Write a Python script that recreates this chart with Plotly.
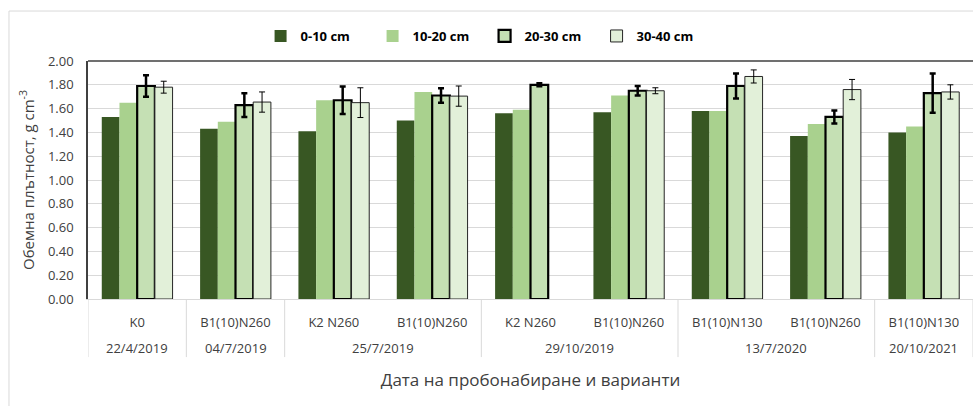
import plotly.graph_objects as go

# ---- data ----
variants = ["K0", "B1(10)N260", "K2 N260", "B1(10)N260", "K2 N260",
            "B1(10)N260", "B1(10)N130", "B1(10)N260", "B1(10)N130"]
dates = ["22/4/2019", "04/7/2019", "25/7/2019", "25/7/2019", "29/10/2019",
         "29/10/2019", "13/7/2020", "13/7/2020", "20/10/2021"]

d0_10 = [1.53, 1.43, 1.41, 1.50, 1.56, 1.57, 1.58, 1.37, 1.40]
d10_20 = [1.65, 1.49, 1.67, 1.74, 1.59, 1.71, 1.58, 1.47, 1.45]
d20_30 = [1.79, 1.63, 1.67, 1.71, 1.80, 1.75, 1.79, 1.53, 1.73]
d20_30_err = [0.09, 0.10, 0.115, 0.06, 0.012, 0.04, 0.105, 0.055, 0.165]
d30_40 = [1.78, 1.655, 1.65, 1.705, None, 1.75, 1.87, 1.76, 1.74]
d30_40_err = [0.05, 0.085, 0.125, 0.085, None, 0.025, 0.055, 0.085, 0.06]

series_names = ["0-10 cm", "10-20 cm", "20-30 cm", "30-40 cm"]
y_title = "Обемна плътност, g cm<sup>-3</sup>"
x_title = "Дата на пробонабиране и варианти"

FONT = "Open Sans"
GRID = "#D9D9D9"
TXT = "#404040"

pos = list(range(len(variants)))

# group consecutive identical dates
groups = []
for i, d in enumerate(dates):
    if groups and groups[-1][0] == d:
        groups[-1][2] = i
    else:
        groups.append([d, i, i])

fig = go.Figure()
fig.add_trace(go.Bar(x=pos, y=d0_10, name=series_names[0],
                     marker=dict(color="#385723", line=dict(width=0))))
fig.add_trace(go.Bar(x=pos, y=d10_20, name=series_names[1],
                     marker=dict(color="#A9D18E", line=dict(width=0))))
fig.add_trace(go.Bar(x=pos, y=d20_30, name=series_names[2],
                     marker=dict(color="#C5E0B4", line=dict(width=2.2, color="#000000")),
                     error_y=dict(type="data", array=d20_30_err, visible=True,
                                  color="#000000", thickness=2.5, width=3)))
fig.add_trace(go.Bar(x=pos, y=d30_40, name=series_names[3],
                     marker=dict(color="#E2F0D9", line=dict(width=1, color="#262626")),
                     error_y=dict(type="data", array=d30_40_err, visible=True,
                                  color="#000000", thickness=1, width=3)))

shapes = [
    dict(type="rect", xref="paper", yref="paper", x0=-0.0893, x1=1.02, y0=-0.5, y1=1.21,
         line=dict(color=GRID, width=1), fillcolor="rgba(0,0,0,0)", layer="below"),
    dict(type="line", xref="paper", yref="paper", x0=0, x1=1, y0=1, y1=1,
         line=dict(color=TXT, width=1.5)),
]
annotations = []
for d, a, b in groups:
    annotations.append(dict(x=(a + b) / 2, y=-0.206, xref="x", yref="paper",
                            text=d, showarrow=False, yanchor="middle",
                            font=dict(family=FONT, size=13, color=TXT)))
    shapes.append(dict(type="line", xref="x", yref="paper", x0=b + 0.5, x1=b + 0.5,
                       y0=0, y1=-0.244, line=dict(color=GRID, width=1)))
shapes.append(dict(type="line", xref="x", yref="paper", x0=-0.5, x1=-0.5,
                   y0=0, y1=-0.244, line=dict(color=GRID, width=1)))

fig.update_layout(
    width=973, height=406,
    margin=dict(l=88, r=0, t=61, b=107),
    paper_bgcolor="white", plot_bgcolor="white",
    barmode="group", bargap=0.28, bargroupgap=0,
    font=dict(family=FONT, size=13, color=TXT),
    legend=dict(orientation="h", x=0.195, xanchor="left", y=1.105, yanchor="middle",
                font=dict(family=FONT, size=13, color="#000000", weight="bold"),
                entrywidth=67, traceorder="normal", bgcolor="rgba(0,0,0,0)"),
    showlegend=True,
    shapes=shapes,
    annotations=annotations,
)

fig.update_yaxes(range=[0, 2], dtick=0.2, tickformat=".2f",
                 showgrid=True, gridcolor=GRID, gridwidth=1,
                 showline=True, linecolor=TXT, linewidth=1.5,
                 zeroline=False, ticks="", ticklabelstandoff=10,
                 tickfont=dict(family=FONT, size=13, color=TXT),
                 title=dict(text=y_title, standoff=10,
                            font=dict(family=FONT, size=15, color=TXT)))
fig.update_xaxes(range=[-0.5, len(variants) - 0.5],
                 tickvals=pos, ticktext=variants,
                 showline=True, linecolor=GRID, linewidth=1,
                 showgrid=False, zeroline=False, ticks="", ticklabelstandoff=11,
                 tickfont=dict(family=FONT, size=13, color=TXT),
                 title=dict(text=x_title, standoff=44,
                            font=dict(family=FONT, size=17, color=TXT)))

fig.write_html("out.html")
